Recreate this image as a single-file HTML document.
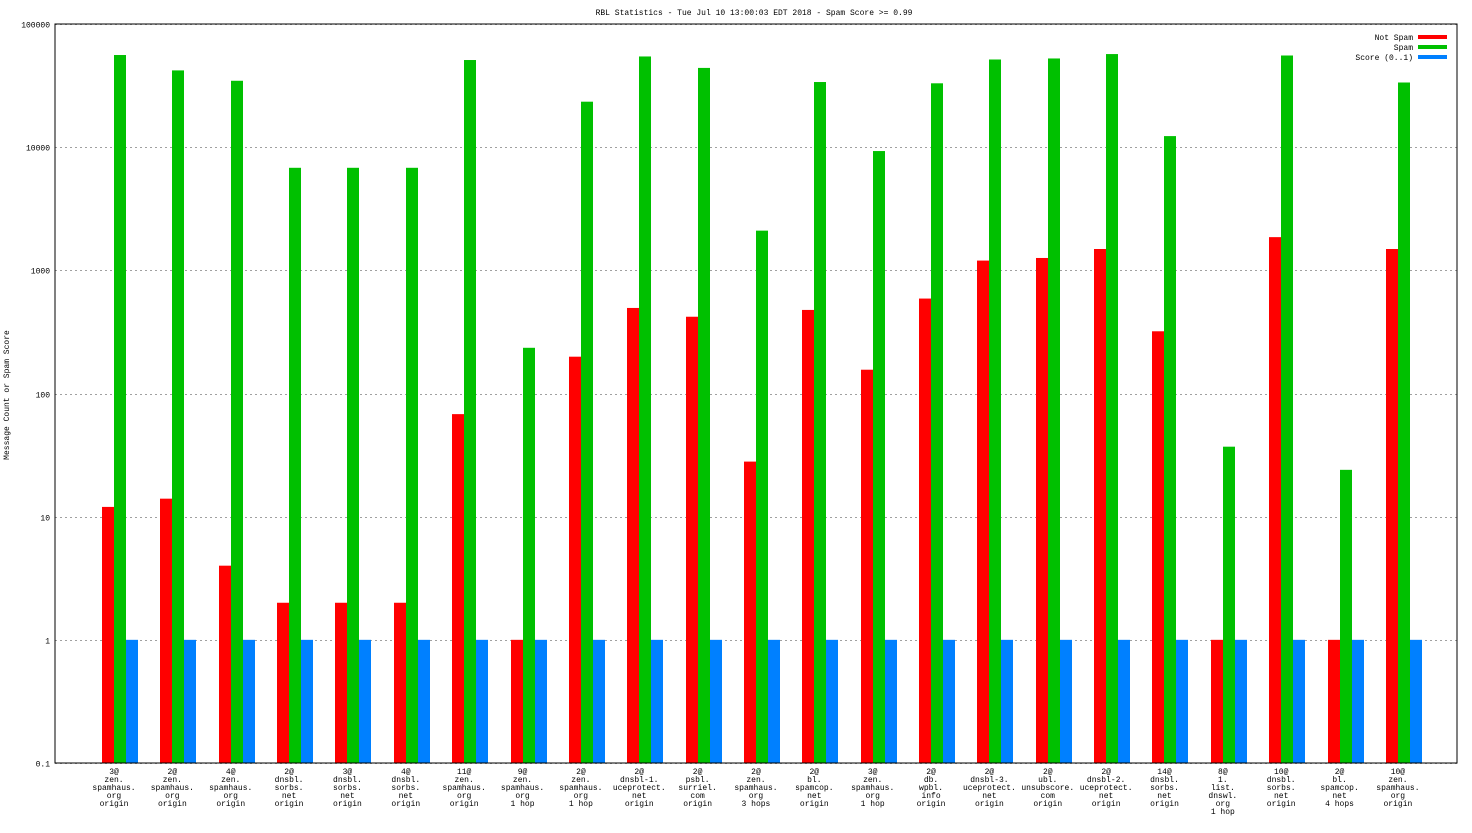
<!DOCTYPE html>
<html><head><meta charset="utf-8"><style>
body{margin:0;background:#fff}
svg text{font-family:"Liberation Mono",monospace;font-size:8px;fill:#000}
</style></head><body>
<svg id="c" width="1472" height="828" xmlns="http://www.w3.org/2000/svg">
<rect width="1472" height="828" fill="#fff"/>
<text x="754" y="15" text-anchor="middle">RBL Statistics - Tue Jul 10 13:00:03 EDT 2018 - Spam Score &gt;= 0.99</text>
<text transform="translate(9,395) rotate(-90)" text-anchor="middle">Message Count or Spam Score</text>
<g id="grid"></g><g id="bars"></g><g id="xl"></g>
<rect x="55" y="24" width="1402" height="739" fill="none" stroke="#000" stroke-width="1"/>
<g>
<text x="1413" y="40" text-anchor="end">Not Spam</text>
<rect x="1418" y="35" width="29" height="4" fill="#ff0000"/>
<text x="1413" y="50" text-anchor="end">Spam</text>
<rect x="1418" y="45" width="29" height="4" fill="#00c000"/>
<text x="1413" y="60" text-anchor="end">Score (0..1)</text>
<rect x="1418" y="55" width="29" height="4" fill="#0080ff"/>
</g>
</svg>
<script>
const categories=[["3@","zen.","spamhaus.","org","origin"],["2@","zen.","spamhaus.","org","origin"],["4@","zen.","spamhaus.","org","origin"],["2@","dnsbl.","sorbs.","net","origin"],["3@","dnsbl.","sorbs.","net","origin"],["4@","dnsbl.","sorbs.","net","origin"],["11@","zen.","spamhaus.","org","origin"],["9@","zen.","spamhaus.","org","1 hop"],["2@","zen.","spamhaus.","org","1 hop"],["2@","dnsbl-1.","uceprotect.","net","origin"],["2@","psbl.","surriel.","com","origin"],["2@","zen.","spamhaus.","org","3 hops"],["2@","bl.","spamcop.","net","origin"],["3@","zen.","spamhaus.","org","1 hop"],["2@","db.","wpbl.","info","origin"],["2@","dnsbl-3.","uceprotect.","net","origin"],["2@","ubl.","unsubscore.","com","origin"],["2@","dnsbl-2.","uceprotect.","net","origin"],["14@","dnsbl.","sorbs.","net","origin"],["8@","1.","list.","dnswl.","org","1 hop"],["10@","dnsbl.","sorbs.","net","origin"],["2@","bl.","spamcop.","net","4 hops"],["10@","zen.","spamhaus.","org","origin"]];
const notSpam=[12,14,4,2,2,2,68,1,199,495,420,28,477,156,590,1200,1260,1490,320,1,1860,1,1490];
const spam=[56000,42000,34600,6800,6800,6800,51000,235,23400,54500,44000,2100,33800,9300,33000,51500,52500,57000,12300,37,55500,24,33500];
const score=[1,1,1,1,1,1,1,1,1,1,1,1,1,1,1,1,1,1,1,1,1,1,1];
const yTicks=[0.1,1,10,100,1000,10000,100000];
const yTickLabels=["0.1","1","10","100","1000","10000","100000"];
const NS="http://www.w3.org/2000/svg";
const plotTop=24,plotBot=763;
function y(v){return plotBot-(Math.log10(v)+1)/6*(plotBot-plotTop);}
function gx(i){return 114+i*58.36;}
function mk(t,a,p){const e=document.createElementNS(NS,t);for(const k in a)e.setAttribute(k,a[k]);p.appendChild(e);return e;}
const grid=document.getElementById('grid'),bars=document.getElementById('bars'),xl=document.getElementById('xl');
yTicks.forEach((v,i)=>{const yy=Math.round(y(v))+0.5;
 const l=mk('line',{x1:55,x2:1457,y1:yy,y2:yy,stroke:'#a0a0a0','stroke-dasharray':'2,3','stroke-width':1},grid);
 
 
 const t=mk('text',{x:50,y:yy+3,'text-anchor':'end'},grid);t.textContent=yTickLabels[i];
 
 
});
const series=[[notSpam,'#ff0000',-12,'not-spam'],[spam,'#00c000',0,'spam'],[score,'#0080ff',12,'score']];
categories.forEach((c,i)=>{
 series.forEach(s=>{const v=s[0][i];const x=Math.round(gx(i)+s[2]);const yy=y(v);
  const r=mk('rect',{x:x,y:yy,width:12,height:plotBot-yy,fill:s[1]},bars);
  
  
 });
 const t=mk('text',{x:gx(i),'text-anchor':'middle'},xl);
 
 
 c.forEach((ln,j)=>{const s=mk('tspan',{x:gx(i),y:774+j*8},t);s.textContent=ln;});
});
</script>
</body></html>
